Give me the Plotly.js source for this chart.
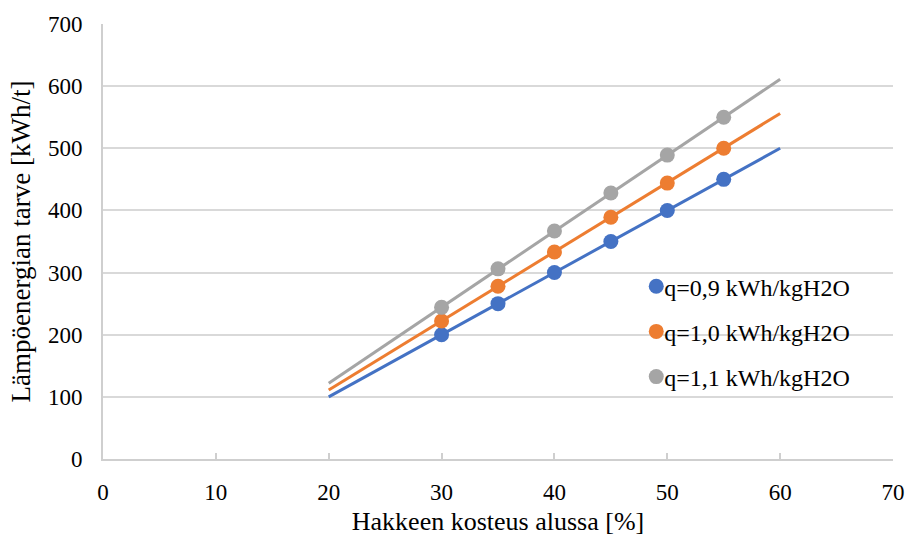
<!DOCTYPE html>
<html>
<head>
<meta charset="utf-8">
<script src="https://cdn.plot.ly/plotly-3.0.1.min.js"></script>
<style>html,body{margin:0;padding:0;background:#fff;}#chart{width:906px;height:537px;}</style>
</head>
<body>
<div id="chart"></div>
<script>
// Initial moisture of wood chips [%]
const moisture = [30, 35, 40, 45, 50, 55];
// Heat demand [kWh/t] for each specific evaporation energy
const heatQ09 = [200, 250, 300, 350, 400, 450];
const heatQ10 = [222, 278, 333, 389, 444, 500];
const heatQ11 = [244, 306, 367, 428, 489, 550];
// Linear trend lines, 20 % ... 60 %
const trendX = [20, 60];
const trendQ09 = [100, 500];
const trendQ10 = [111, 556];
const trendQ11 = [122, 611];
const seriesNames = ['q=0,9 kWh/kgH2O', 'q=1,0 kWh/kgH2O', 'q=1,1 kWh/kgH2O'];
const xTicks = [0, 10, 20, 30, 40, 50, 60, 70];
const yTicks = [0, 100, 200, 300, 400, 500, 600, 700];

const colors = ['#4472C4', '#ED7D31', '#A5A5A5'];
const points = [heatQ09, heatQ10, heatQ11];
const trends = [trendQ09, trendQ10, trendQ11];

const traces = [];
trends.forEach((t, i) => {
  traces.push({
    x: trendX, y: t, type: 'scatter', mode: 'lines',
    line: {color: colors[i], width: 3}, showlegend: false, hoverinfo: 'skip'
  });
});
points.forEach((p, i) => {
  traces.push({
    x: moisture, y: p, type: 'scatter', mode: 'markers', name: seriesNames[i],
    legendgroup: 'g' + i,
    marker: {color: colors[i], size: 15}
  });
});

const family = 'Liberation Serif, Times New Roman, serif';
const tickFont = {family: family, size: 23, color: '#000'};
const xTitleFont = {family: family, size: 26, color: '#000'};
const yTitleFont = {family: family, size: 27, color: '#000'};
const legendFont = {family: family, size: 24, color: '#000'};

const layout = {
  width: 906, height: 537,
  margin: {l: 103, r: 13, t: 24, b: 78},
  paper_bgcolor: '#fff', plot_bgcolor: '#fff',
  font: tickFont,
  showlegend: true,
  legend: {
    x: 0.675, y: 0.448, xanchor: 'left', yanchor: 'top',
    bgcolor: 'rgba(0,0,0,0)', font: legendFont, tracegroupgap: 11,
    traceorder: 'grouped'
  },
  xaxis: {
    range: [0, 70], tickvals: xTicks, ticktext: xTicks.map(String),
    showgrid: false, zeroline: false,
    showline: true, linecolor: '#CFCFCF', linewidth: 2,
    ticks: 'inside', ticklen: 6, tickcolor: '#CFCFCF', tickwidth: 2,
    tickfont: tickFont, ticklabelstandoff: 11,
    title: {text: 'Hakkeen kosteus alussa [%]', font: xTitleFont, standoff: 8}
  },
  yaxis: {
    range: [0, 700], tickvals: yTicks, ticktext: yTicks.map(String),
    showgrid: true, gridcolor: '#D9D9D9', gridwidth: 2, zeroline: false,
    showline: true, linecolor: '#CFCFCF', linewidth: 2,
    ticks: '', tickfont: tickFont, ticklabelstandoff: 14,
    title: {text: 'Lämpöenergian tarve [kWh/t]', font: yTitleFont, standoff: 9}
  }
};

Plotly.newPlot('chart', traces, layout, {displayModeBar: false, staticPlot: true}).then(gd => {
  // tighten the gap between legend symbol and its label
  gd.querySelectorAll('.legendtext').forEach(t => t.setAttribute('x', 28));
});
</script>
</body>
</html>
